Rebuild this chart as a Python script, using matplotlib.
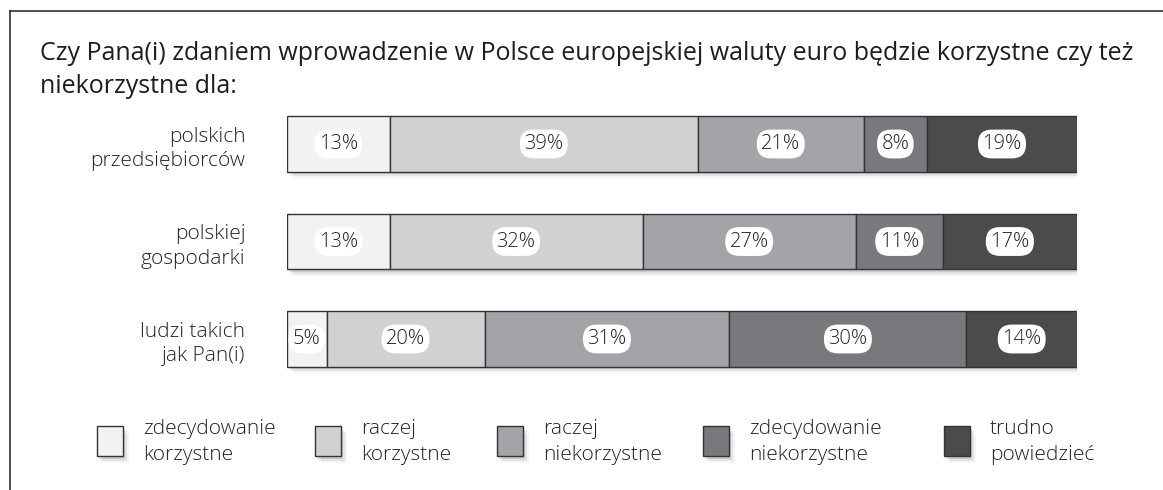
import matplotlib.pyplot as plt
import matplotlib.patheffects as pe
import numpy as np
from matplotlib.patches import Rectangle
from matplotlib.lines import Line2D

# ---- data ----
title = ("Czy Pana(i) zdaniem wprowadzenie w Polsce europejskiej waluty euro będzie korzystne czy też\n"
         "niekorzystne dla:")
groups = ["polskich\nprzedsiębiorców", "polskiej\ngospodarki", "ludzi takich\njak Pan(i)"]
answers = ["zdecydowanie\nkorzystne", "raczej\nkorzystne", "raczej\nniekorzystne",
           "zdecydowanie\nniekorzystne", "trudno\npowiedzieć"]
zdec_korzystne = [13, 13, 5]
raczej_korzystne = [39, 32, 20]
raczej_niekorzystne = [21, 27, 31]
zdec_niekorzystne = [8, 11, 30]
trudno = [19, 17, 14]
series = [zdec_korzystne, raczej_korzystne, raczej_niekorzystne, zdec_niekorzystne, trudno]
colors = ["#f1f2f4", "#d0d1d3", "#a3a4a7", "#78797c", "#4a4b4d"]

W, H = 1163, 490
plt.rcParams['font.family'] = ['Open Sans', 'DejaVu Sans']
fig = plt.figure(figsize=(W / 100, H / 100), dpi=100)

# frame lines (top and left)
fig.add_artist(Line2D([10 / W, 1], [1 - 11 / H, 1 - 11 / H], color="#333333", lw=1.2))
fig.add_artist(Line2D([10 / W, 10 / W], [0, 1 - 11 / H], color="#333333", lw=1.2))

fig.text(40 / W, 1 - 41 / H, title, ha="left", va="top", fontsize=18,
         color="#1e1e1e", linespacing=1.42)

ax = fig.add_axes([287 / W, 1 - 397.5 / H, 790 / W, 312 / H])
y = np.arange(len(groups))
bar_h = 0.565

shadow = [pe.SimplePatchShadow(offset=(1.5, -2), shadow_rgbFace="#000000", alpha=0.10),
          pe.SimplePatchShadow(offset=(3, -3.5), shadow_rgbFace="#000000", alpha=0.07),
          pe.SimplePatchShadow(offset=(4.5, -5), shadow_rgbFace="#000000", alpha=0.04)]
totals = np.sum(series, axis=0)
sb = ax.barh(y, totals, height=bar_h, color="white", edgecolor="none")
for p in sb:
    p.set_path_effects(shadow + [pe.Normal()])

left = np.zeros(len(groups))
for vals, c in zip(series, colors):
    vals = np.array(vals)
    ax.barh(y, vals, left=left, height=bar_h, color=c, edgecolor="#333333", linewidth=1.0)
    for yi, (l, v) in enumerate(zip(left, vals)):
        ax.text(l + v / 2, yi, f"{v}%", ha="center", va="center", fontsize=14.5,
                fontweight="light", color="#222222",
                bbox=dict(boxstyle="round,pad=0.22,rounding_size=0.7", fc="white", ec="none"))
    left += vals

ax.set_xlim(0, 100)
ax.set_ylim(2.6, -0.6)
ax.set_yticks(y)
ax.set_yticklabels(groups, fontsize=15, fontweight="light", color="#222222", linespacing=1.3)
ax.tick_params(axis="y", length=0, pad=30)
ax.set_xticks([])
for s in ax.spines.values():
    s.set_visible(False)

# legend
box_x = [97, 315, 497, 703, 944]
for bx, lab, c in zip(box_x, answers, colors):
    r = Rectangle((bx / W, 1 - 456 / H), 26 / W, 30 / H, transform=fig.transFigure,
                  fc=c, ec="#333333", lw=1.0)
    r.set_path_effects(shadow + [pe.Normal()])
    fig.add_artist(r)
    fig.text((bx + 46) / W, 1 - 442 / H, lab, ha="left", va="center", fontsize=15,
             fontweight="light", color="#222222", linespacing=1.35)

fig.savefig("out.png", dpi=100)
